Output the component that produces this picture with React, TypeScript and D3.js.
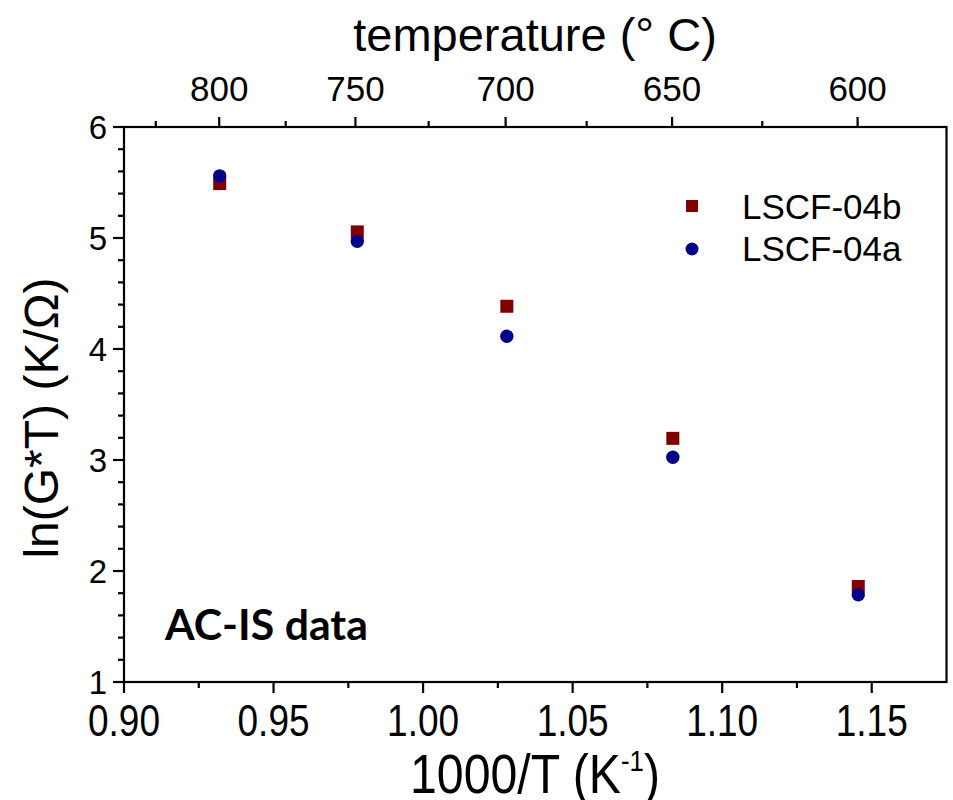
import React from "react";
import * as d3 from "d3";

const invT = [0.932, 0.978, 1.028, 1.0835, 1.1455];
const seriesB = [5.49, 5.055, 4.385, 3.195, 1.86]; // LSCF-04b squares
const seriesA = [5.56, 4.97, 4.115, 3.025, 1.785]; // LSCF-04a circles
const seriesNames = ["LSCF-04b", "LSCF-04a"];
const bottomTicks = [0.9, 0.95, 1.0, 1.05, 1.1, 1.15];
const bottomMinor = [0.925, 0.975, 1.025, 1.075, 1.125];
const leftTicks = [1, 2, 3, 4, 5, 6];
const topTempsMajor = [800, 750, 700, 650, 600];
const topTempsMinor = [825, 775, 725, 675, 625];

const W = 953;
const H = 800;
const L = 124, R = 946.5, T = 127, B = 682;

export default function App() {
  const x = d3.scaleLinear().domain([0.9, 1.175]).range([L, R]);
  const y = d3.scaleLinear().domain([1, 6]).range([B, T]);
  const tx = (c: number) => x(1000 / (c + 273.15));
  const leftMinor: number[] = d3.range(1, 6.001, 0.2).filter((v) => Math.abs(v - Math.round(v)) > 0.01);
  const font = "'Liberation Sans', Arial, sans-serif";
  const sq = 13;
  return (
    <svg width={W} height={H} style={{ position: "absolute", left: 0, top: 0, background: "#fff" }} fontFamily={font}>
      <rect x={0} y={0} width={W} height={H} fill="#fff" />
      {/* frame */}
      <rect x={L} y={T} width={R - L} height={B - T} fill="none" stroke="#000" strokeWidth={2.2} />
      {/* bottom ticks */}
      {bottomTicks.map((v) => (
        <g key={"bt" + v}>
          <line x1={x(v)} x2={x(v)} y1={B} y2={B + 11} stroke="#000" strokeWidth={2.2} />
          <text x={x(v)} y={736} textAnchor="middle" fontSize={44} textLength={72} lengthAdjust="spacingAndGlyphs">
            {v.toFixed(2)}
          </text>
        </g>
      ))}
      {bottomMinor.map((v) => (
        <line key={"bm" + v} x1={x(v)} x2={x(v)} y1={B} y2={B + 6} stroke="#000" strokeWidth={2.2} />
      ))}
      {/* left ticks */}
      {leftTicks.map((v) => (
        <g key={"lt" + v}>
          <line x1={L - 11} x2={L} y1={y(v)} y2={y(v)} stroke="#000" strokeWidth={2.2} />
          <text x={107} y={y(v) + 12} textAnchor="end" fontSize={33}>
            {v}
          </text>
        </g>
      ))}
      {leftMinor.map((v) => (
        <line key={"lm" + v} x1={L - 6} x2={L} y1={y(v)} y2={y(v)} stroke="#000" strokeWidth={2.2} />
      ))}
      {/* top ticks */}
      {topTempsMajor.map((c) => (
        <g key={"tt" + c}>
          <line x1={tx(c)} x2={tx(c)} y1={T - 10} y2={T} stroke="#000" strokeWidth={2.2} />
          <text x={tx(c)} y={101} textAnchor="middle" fontSize={35}>
            {c}
          </text>
        </g>
      ))}
      {topTempsMinor.map((c) => (
        <line key={"tm" + c} x1={tx(c)} x2={tx(c)} y1={T - 6} y2={T} stroke="#000" strokeWidth={2.2} />
      ))}
      {/* titles */}
      <text x={535} y={51} textAnchor="middle" fontSize={47}>
        temperature (° C)
      </text>
      <text x={535} y={793} textAnchor="middle" fontSize={56} textLength={250} lengthAdjust="spacingAndGlyphs">
        1000/T (K<tspan dy={-22} fontSize={30}>-1</tspan><tspan dy={22}>)</tspan>
      </text>
      <text transform={`translate(58, 418) rotate(-90)`} textAnchor="middle" fontSize={48}>
        ln(G*T) (K/Ω)
      </text>
      {/* data */}
      {invT.map((v, i) => (
        <rect key={"b" + i} x={x(v) - sq / 2} y={y(seriesB[i]) - sq / 2} width={sq} height={sq} fill="#800000" />
      ))}
      {invT.map((v, i) => (
        <circle key={"a" + i} cx={x(v)} cy={y(seriesA[i])} r={6.7} fill="#000088" />
      ))}
      {/* legend */}
      <rect x={686} y={200} width={12} height={12} fill="#800000" />
      <circle cx={692} cy={249} r={6.5} fill="#000088" />
      <text x={742} y={219} fontSize={35}>{seriesNames[0]}</text>
      <text x={742} y={261} fontSize={35}>{seriesNames[1]}</text>
      {/* annotation */}
      <text x={165} y={640} fontSize={42} fontWeight="bold" fontFamily="Lato, 'Open Sans', sans-serif" textLength={203} lengthAdjust="spacingAndGlyphs">
        AC-IS data
      </text>
    </svg>
  );
}
